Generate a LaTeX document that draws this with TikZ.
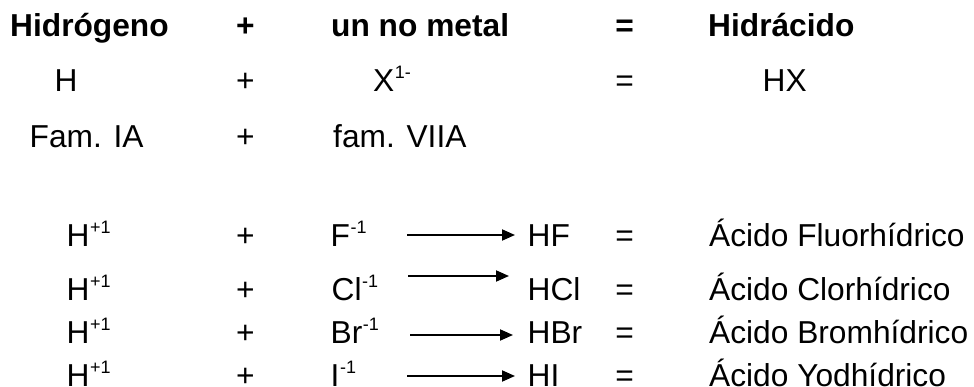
\documentclass[tikz,border=0pt]{standalone}
\usepackage{fontspec}
\setmainfont{Liberation Sans}
\usetikzlibrary{arrows.meta}
\newcommand\supx[1]{\hspace{0.5pt}\raisebox{13pt}{\fontsize{18}{18}\selectfont #1}}
\tikzset{
  txt/.style={anchor=base west, inner sep=0pt, font=\fontsize{31.7}{31.7}\selectfont},
  btxt/.style={txt, font=\fontsize{31.7}{31.7}\selectfont\bfseries},
  op/.style={txt, anchor=base},
  bop/.style={btxt, anchor=base},
  rxn/.style={line width=1.9pt, -{Triangle[length=13pt,width=11pt]}}
}
\begin{document}
\begin{tikzpicture}[x=1pt,y=-1pt]
\useasboundingbox (0,0) rectangle (974,387);
% row 1
\node[btxt] (h1) at (10,37) {Hidrógeno};
\node[bop] (p1) at (245.5,37) {+};
\node[btxt] (n1) at (331,37) {un no metal};
\node[bop] (e1) at (624.5,37) {=};
\node[btxt] (r1) at (708,37) {Hidrácido};
% row 2
\node[txt] (h2) at (54.5,92) {H};
\node[op] (p2) at (245.5,92) {+};
\node[txt] (n2) at (373,92) {X\supx{1-}};
\node[op] (e2) at (624.5,92) {=};
\node[txt] (r2) at (762.5,92) {HX};
% row 3
\node[txt] (h3) at (29.5,148) {Fam. IA};
\node[op] (p3) at (245.5,148) {+};
\node[txt] (n3) at (333,148) {fam. VIIA};
% row 4
\node[txt] (h4) at (66.5,246.5) {H\supx{+1}};
\node[op] (p4) at (245.5,246.5) {+};
\node[txt] (n4) at (330.5,246.5) {F\supx{-1}};
\coordinate (a4) at (407,235);
\coordinate (b4) at (515,235);
\draw[rxn] (a4) -- (b4);
\node[txt] (c4) at (527.5,246.5) {HF};
\node[op] (e4) at (624.5,246.5) {=};
\node[txt] (r4) at (709,246.5) {Ácido Fluorhídrico};
% row 5
\node[txt] (h5) at (66.5,300) {H\supx{+1}};
\node[op] (p5) at (245.5,300) {+};
\node[txt] (n5) at (331.5,300) {Cl\supx{-1}};
\coordinate (a5) at (408,276);
\coordinate (b5) at (509,276);
\draw[rxn] (a5) -- (b5);
\node[txt] (c5) at (527.5,300) {HCl};
\node[op] (e5) at (624.5,300) {=};
\node[txt] (r5) at (709,300) {Ácido Clorhídrico};
% row 6
\node[txt] (h6) at (66.5,343.5) {H\supx{+1}};
\node[op] (p6) at (245.5,343.5) {+};
\node[txt] (n6) at (330.5,343.5) {Br\supx{-1}};
\coordinate (a6) at (410,335);
\coordinate (b6) at (513,335);
\draw[rxn] (a6) -- (b6);
\node[txt] (c6) at (527.5,343.5) {HBr};
\node[op] (e6) at (624.5,343.5) {=};
\node[txt] (r6) at (709,343.5) {Ácido Bromhídrico};
% row 7
\node[txt] (h7) at (66.5,386) {H\supx{+1}};
\node[op] (p7) at (245.5,386) {+};
\node[txt] (n7) at (330.5,386) {I\supx{-1}};
\coordinate (a7) at (407,376);
\coordinate (b7) at (515,376);
\draw[rxn] (a7) -- (b7);
\node[txt] (c7) at (527.5,386) {HI};
\node[op] (e7) at (624.5,386) {=};
\node[txt] (r7) at (709,386) {Ácido Yodhídrico};
\end{tikzpicture}
\end{document}
